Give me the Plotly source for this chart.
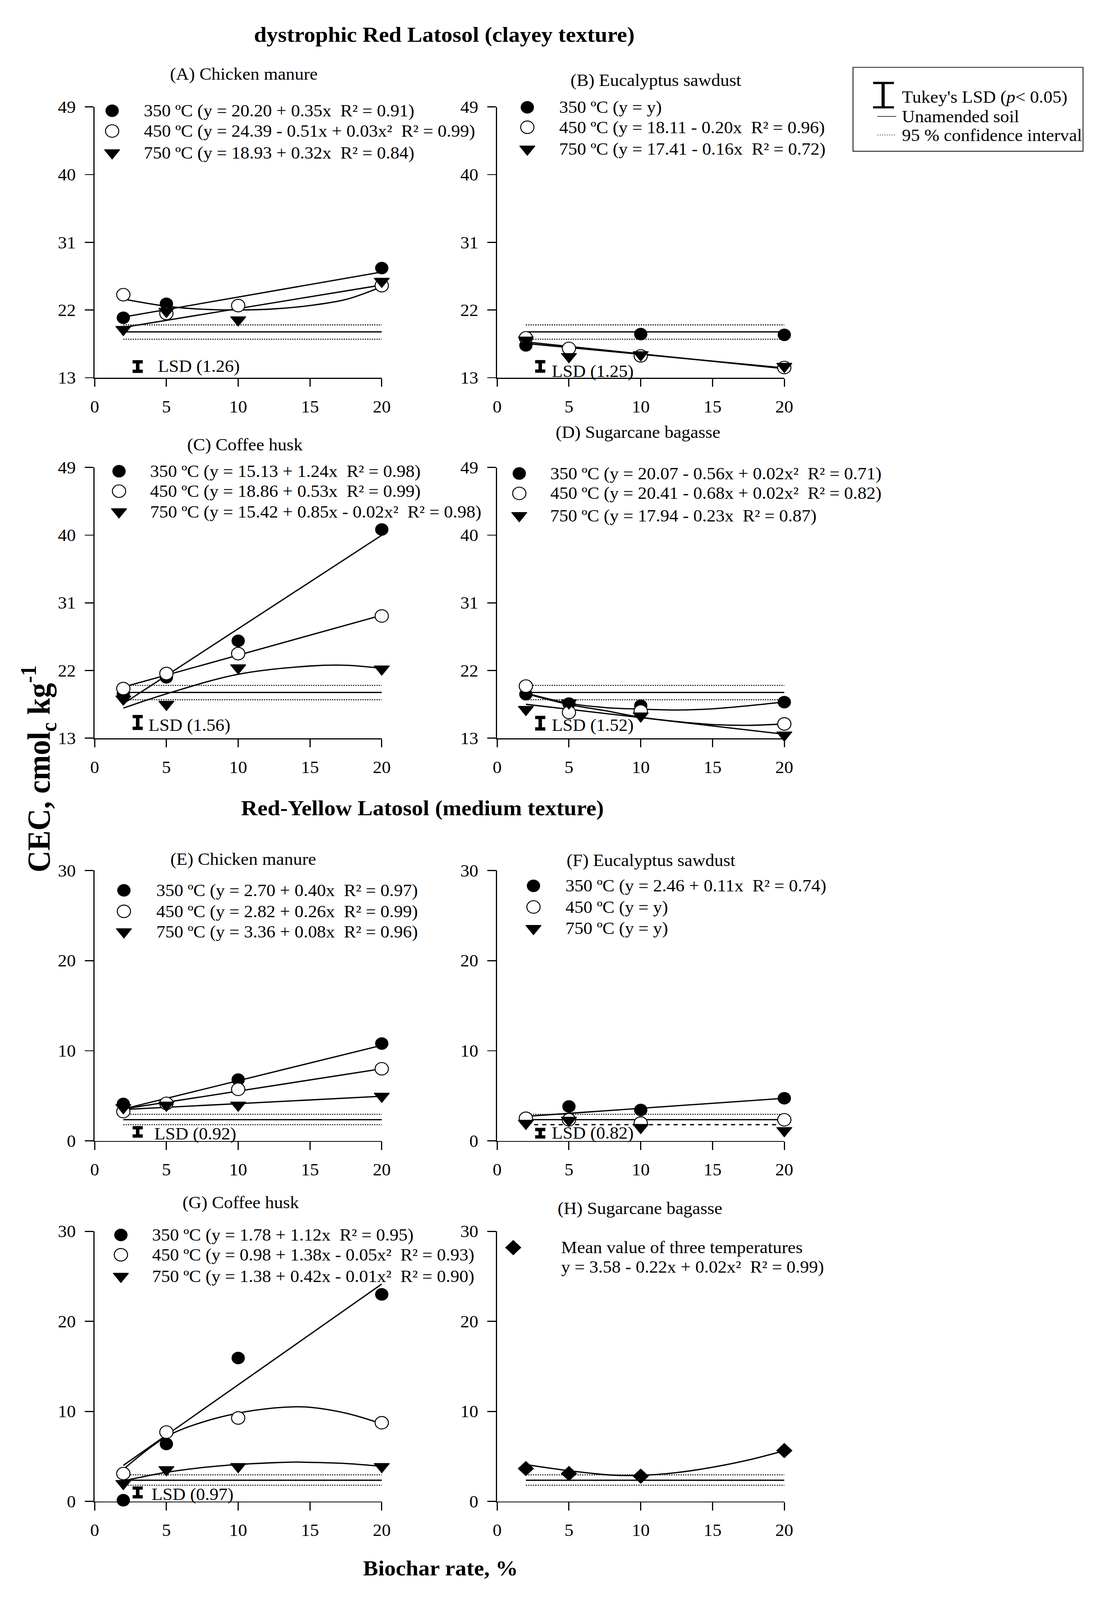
import plotly.graph_objects as go

# ---------------- data ----------------
rate = [2, 5, 10, 20]

# dystrophic Red Latosol (clayey texture)
A_350 = [20.97, 22.83, 22.60, 27.58]
A_450 = [24.04, 21.54, 22.59, 25.24]
A_750 = [19.41, 21.81, 20.69, 25.81]
B_350 = [17.30, 16.90, 18.80, 18.70]
B_450 = [18.30, 16.90, 15.90, 14.35]
B_750 = [18.00, 15.80, 16.05, 14.50]
C_350 = [18.90, 21.10, 25.95, 40.75]
C_450 = [19.60, 21.60, 24.25, 29.25]
C_750 = [18.20, 17.50, 22.35, 22.20]
D_350 = [18.85, 17.60, 17.32, 17.80]
D_450 = [19.93, 16.43, 16.60, 14.90]
D_750 = [16.83, 17.69, 15.95, 13.42]

# Red-Yellow Latosol (medium texture)
E_350 = [4.10, 4.20, 6.80, 10.80]
E_450 = [3.25, 4.16, 5.72, 8.00]
E_750 = [3.68, 3.96, 3.96, 4.95]
F_350 = [2.31, 3.82, 3.43, 4.73]
F_450 = [2.51, 2.34, 1.98, 2.34]
F_750 = [1.95, 2.28, 1.48, 1.14]
G_350 = [0.13, 6.38, 15.93, 23.00]
G_450 = [3.09, 7.70, 9.27, 8.74]
G_750 = [1.98, 3.52, 3.87, 3.87]
H_mean = [3.65, 3.10, 2.80, 5.65]

# fitted curves as drawn (read at several rates)
fit_x_line = [2, 20]
fitA_350 = [21.06, 27.05]
fitA_450_x = [2, 5, 7.5, 10, 12.5, 15, 17.5, 20]
fitA_450 = [23.45, 22.50, 22.10, 22.00, 22.15, 22.60, 23.40, 25.10]
fitA_750 = [19.69, 25.32]
fitB_450 = [17.75, 14.20]
fitB_750 = [17.55, 14.30]
fitC_350 = [17.60, 40.00]
fitC_450 = [19.80, 29.35]
fitC_750_x = [2, 5, 10, 15, 17.5, 20]
fitC_750 = [17.00, 18.90, 21.50, 22.60, 22.70, 22.30]
fitD_x = [2, 5, 7.5, 10, 12.5, 15, 17.5, 20]
fitD_350 = [19.00, 17.64, 17.08, 16.87, 16.75, 16.91, 17.32, 17.83]
fitD_450 = [18.93, 17.48, 16.67, 15.79, 15.22, 14.82, 14.71, 14.90]
fitD_750 = [17.51, 13.53]
fitE_350 = [3.54, 10.60]
fitE_450 = [3.54, 8.00]
fitE_750 = [3.48, 4.95]
fitF_350 = [2.72, 4.73]
fitG_350 = [4.00, 24.15]
fitG_x = [2, 5, 7.5, 10, 12.5, 14, 15, 17.5, 20]
fitG_450 = [3.56, 7.19, 8.80, 9.81, 10.38, 10.51, 10.46, 9.81, 8.63]
fitG_750 = [2.28, 3.23, 3.76, 4.10, 4.30, 4.37, 4.34, 4.21, 3.90]
fitH_x = [2, 5, 8, 10, 12.5, 15, 17.5, 20]
fitH = [4.09, 3.41, 2.92, 2.90, 3.20, 3.80, 4.60, 5.63]

# unamended soil and 95 % CI
unamended_clay = 19.09
ci_clay = [18.12, 20.02]
unamended_med = 2.35
ci_med = [1.80, 2.95]

# Tukey LSD values
lsd_panels = ["A", "B", "C", "D", "E", "F", "G"]
lsd_values = [1.26, 1.25, 1.56, 1.52, 0.92, 0.82, 0.97]

yticks_clay = [13, 22, 31, 40, 49]
yticks_med = [0, 10, 20, 30]
xticks = [0, 5, 10, 15, 20]

legend_text = {
    "A": ["350 ºC (y = 20.20 + 0.35x\u00a0 R² = 0.91)",
          "450 ºC (y = 24.39 - 0.51x + 0.03x²\u00a0 R² = 0.99)",
          "750 ºC (y = 18.93 + 0.32x\u00a0 R² = 0.84)"],
    "B": ["350 ºC (y = y)",
          "450 ºC (y = 18.11 - 0.20x\u00a0 R² = 0.96)",
          "750 ºC (y = 17.41 - 0.16x\u00a0 R² = 0.72)"],
    "C": ["350 ºC (y = 15.13 + 1.24x\u00a0 R² = 0.98)",
          "450 ºC (y = 18.86 + 0.53x\u00a0 R² = 0.99)",
          "750 ºC (y = 15.42 + 0.85x - 0.02x²\u00a0 R² = 0.98)"],
    "D": ["350 ºC (y = 20.07 - 0.56x + 0.02x²\u00a0 R² = 0.71)",
          "450 ºC (y = 20.41 - 0.68x + 0.02x²\u00a0 R² = 0.82)",
          "750 ºC (y = 17.94 - 0.23x\u00a0 R² = 0.87)"],
    "E": ["350 ºC (y = 2.70 + 0.40x\u00a0 R² = 0.97)",
          "450 ºC (y = 2.82 + 0.26x\u00a0 R² = 0.99)",
          "750 ºC (y = 3.36 + 0.08x\u00a0 R² = 0.96)"],
    "F": ["350 ºC (y = 2.46 + 0.11x\u00a0 R² = 0.74)",
          "450 ºC (y = y)",
          "750 ºC (y = y)"],
    "G": ["350 ºC (y = 1.78 + 1.12x\u00a0 R² = 0.95)",
          "450 ºC (y = 0.98 + 1.38x - 0.05x²\u00a0 R² = 0.93)",
          "750 ºC (y = 1.38 + 0.42x - 0.01x²\u00a0 R² = 0.90)"],
    "H": ["Mean value of three temperatures",
          "y = 3.58 - 0.22x + 0.02x²\u00a0 R² = 0.99)"],
}
panel_titles = {"A": "(A) Chicken manure", "B": "(B) Eucalyptus sawdust",
                "C": "(C) Coffee husk", "D": "(D) Sugarcane bagasse",
                "E": "(E) Chicken manure", "F": "(F) Eucalyptus sawdust",
                "G": "(G) Coffee husk", "H": "(H) Sugarcane bagasse"}

# ---------------- layout / positions ----------------
PX_W, PX_H = 2838, 4351
FONT = "Liberation Serif"
FS = 46
FS_BOLD = 58
FS_YTITLE = 82


def px(x, y):
    return x / PX_W, 1 - y / PX_H


col_px = [(233, 977), (1276, 2020)]
row_px = [(269, 1014), (1261, 2006), (2370, 3114), (3363, 4106)]
panel_grid = {"A": (0, 0), "B": (1, 0), "C": (0, 1), "D": (1, 1),
              "E": (0, 2), "F": (1, 2), "G": (0, 3), "H": (1, 3)}
panel_ids = ["A", "B", "C", "D", "E", "F", "G", "H"]

title_px = {"A": (620, 179), "B": (1687, 196), "C": (623, 1199), "D": (1641, 1164),
            "E": (618, 2339), "F": (1675, 2342), "G": (612, 3284), "H": (1646, 3299)}
# legend key positions in data units: symbol x, text x, row ys
legend_pos = {
    "A": (1.22, 3.38, [48.5, 45.8, 42.9]),
    "B": (2.10, 4.27, [48.95, 46.3, 43.4]),
    "C": (1.70, 3.82, [48.5, 45.85, 43.1]),
    "D": (1.54, 3.65, [48.2, 45.55, 42.6]),
    "E": (2.04, 4.23, [27.8, 25.47, 23.2]),
    "F": (2.53, 4.69, [28.3, 25.95, 23.57]),
    "G": (1.83, 3.94, [29.6, 27.4, 25.0]),
    "H": (1.12, 4.41, [28.2, 26.06]),
}
# LSD bar: bar centre y, label x, label y
lsd_pos = {
    "A": (14.48, 4.34, 14.53), "B": (14.5, 3.76, 13.85), "C": (15.1, 3.70, 14.75),
    "D": (15.0, 3.76, 14.74), "E": (1.0, 4.10, 0.76), "F": (0.85, 3.76, 0.9),
    "G": (1.0, 3.91, 0.81),
}

BLACK = "black"
circle_f = dict(symbol="circle", size=34, color=BLACK, line=dict(width=0))
circle_o_fill = dict(symbol="circle", size=34, color="white", line=dict(width=2.5, color=BLACK))
tri = dict(symbol="triangle-down", size=34, color=BLACK, line=dict(width=2, color=BLACK))
diam = dict(symbol="diamond", size=32, color=BLACK, line=dict(width=0))
marker_styles = [circle_f, circle_o_fill, tri]

fig = go.Figure()


def axes_ref(i):
    return ("x" if i == 1 else f"x{i}"), ("y" if i == 1 else f"y{i}")


def add_line(i, xs, ys, width=3.5, dash="solid", color=BLACK, shape="linear"):
    xa, ya = axes_ref(i)
    fig.add_trace(go.Scatter(x=xs, y=ys, mode="lines", xaxis=xa, yaxis=ya,
                             line=dict(color=color, width=width, dash=dash, shape=shape,
                                       smoothing=1.0),
                             hoverinfo="skip", cliponaxis=False))


def add_points(i, ys, marker, name):
    xa, ya = axes_ref(i)
    fig.add_trace(go.Scatter(x=rate, y=ys, mode="markers", xaxis=xa, yaxis=ya, name=name,
                             marker=marker, cliponaxis=False))


series = {
    "A": [A_350, A_450, A_750], "B": [B_350, B_450, B_750],
    "C": [C_350, C_450, C_750], "D": [D_350, D_450, D_750],
    "E": [E_350, E_450, E_750], "F": [F_350, F_450, F_750],
    "G": [G_350, G_450, G_750], "H": [H_mean],
}
fits = {
    "A": [(fit_x_line, fitA_350, "linear"), (fitA_450_x, fitA_450, "spline"), (fit_x_line, fitA_750, "linear")],
    "B": [(fit_x_line, fitB_450, "linear"), (fit_x_line, fitB_750, "linear")],
    "C": [(fit_x_line, fitC_350, "linear"), (fit_x_line, fitC_450, "linear"), (fitC_750_x, fitC_750, "spline")],
    "D": [(fitD_x, fitD_350, "spline"), (fitD_x, fitD_450, "spline"), (fit_x_line, fitD_750, "linear")],
    "E": [(fit_x_line, fitE_350, "linear"), (fit_x_line, fitE_450, "linear"), (fit_x_line, fitE_750, "linear")],
    "F": [(fit_x_line, fitF_350, "linear")],
    "G": [(fit_x_line, fitG_350, "linear"), (fitG_x, fitG_450, "spline"), (fitG_x, fitG_750, "spline")],
    "H": [(fitH_x, fitH, "spline")],
}

annotations = []
shapes = []
layout_axes = {}

for i, pid in enumerate(panel_ids, start=1):
    c, r = panel_grid[pid]
    clay = r < 2
    x0, x1 = col_px[c]
    yt, yb = row_px[r]
    xa_name = "xaxis" if i == 1 else f"xaxis{i}"
    ya_name = "yaxis" if i == 1 else f"yaxis{i}"
    xa, ya = axes_ref(i)
    layout_axes[xa_name] = dict(
        domain=[x0 / PX_W, x1 / PX_W], anchor=ya, range=[0, 20], tickvals=xticks,
        showline=True, linecolor=BLACK, linewidth=3, ticks="outside", ticklen=22,
        tickwidth=3, tickcolor=BLACK, showgrid=False, zeroline=False,
        tickfont=dict(family=FONT, size=FS, color=BLACK), ticklabelstandoff=14)
    layout_axes[ya_name] = dict(
        domain=[1 - yb / PX_H, 1 - yt / PX_H], anchor=xa,
        range=[13, 49] if clay else [0, 30],
        tickvals=yticks_clay if clay else yticks_med,
        showline=True, linecolor=BLACK, linewidth=3, ticks="outside", ticklen=22,
        tickwidth=3, tickcolor=BLACK, showgrid=False, zeroline=False,
        tickfont=dict(family=FONT, size=FS, color=BLACK), ticklabelstandoff=14)

    # unamended soil and CI
    base = unamended_clay if clay else unamended_med
    ci = ci_clay if clay else ci_med
    add_line(i, fit_x_line, [ci[1], ci[1]], width=3, dash="dot", color="#111")
    if pid == "F":
        add_line(i, fit_x_line, [ci[0], ci[0]], width=3.5, dash="dash")
    else:
        add_line(i, fit_x_line, [ci[0], ci[0]], width=3, dash="dot", color="#111")
    add_line(i, fit_x_line, [base, base], width=3.5)

    for fx, fy, shp in fits[pid]:
        add_line(i, fx, fy, shape=shp)

    sx, tx, rows = legend_pos[pid]
    if pid == "H":
        add_points(i, H_mean, diam, "Mean")
        fig.add_trace(go.Scatter(x=[sx], y=[rows[0]], mode="markers", xaxis=xa, yaxis=ya,
                                 marker=diam, cliponaxis=False))
    else:
        for k, ys in enumerate(series[pid]):
            add_points(i, ys, marker_styles[k], legend_text[pid][k][:6])
        for k in range(3):
            fig.add_trace(go.Scatter(x=[sx], y=[rows[k]], mode="markers", xaxis=xa, yaxis=ya,
                                     marker=marker_styles[k], cliponaxis=False))
    for k, txt in enumerate(legend_text[pid]):
        annotations.append(dict(x=tx, y=rows[k], xref=xa, yref=ya, text=txt, showarrow=False,
                                xanchor="left", yanchor="middle",
                                font=dict(family=FONT, size=FS, color=BLACK)))

    if pid in lsd_panels:
        v = lsd_values[lsd_panels.index(pid)]
        cy, lx, ly = lsd_pos[pid]
        fig.add_trace(go.Scatter(x=[3.0], y=[cy], mode="markers", xaxis=xa, yaxis=ya,
                                 marker=dict(size=1, color="rgba(0,0,0,0)"),
                                 error_y=dict(type="constant", value=v / 2, symmetric=True,
                                              thickness=9, width=13, color=BLACK),
                                 cliponaxis=False))
        annotations.append(dict(x=lx, y=ly, xref=xa, yref=ya, text=f"LSD ({v:.2f})",
                                showarrow=False, xanchor="left", yanchor="middle",
                                font=dict(family=FONT, size=FS, color=BLACK)))

    tx_, ty_ = px(*title_px[pid])
    annotations.append(dict(x=tx_, y=ty_, xref="paper", yref="paper", text=panel_titles[pid],
                            showarrow=False, xanchor="center", yanchor="middle",
                            font=dict(family=FONT, size=FS, color=BLACK)))

# section and axis titles
for txt, (x, y) in [("<b>dystrophic Red Latosol (clayey texture)</b>", (1139, 70)),
                    ("<b>Red-Yellow Latosol (medium texture)</b>", (1082, 2198)),
                    ("<b>Biochar rate, %</b>", (1129, 4290))]:
    px_, py_ = px(x, y)
    annotations.append(dict(x=px_, y=py_, xref="paper", yref="paper", text=txt, showarrow=False,
                            xanchor="center", yanchor="middle",
                            font=dict(family=FONT, size=FS_BOLD, color=BLACK)))
yx, yy = px(88, 2090)
annotations.append(dict(x=yx, y=yy, xref="paper", yref="paper",
                        text="<b>CEC, cmol<sub>c</sub> kg<sup>-1</sup></b>", textangle=-90,
                        showarrow=False, xanchor="center", yanchor="middle",
                        font=dict(family=FONT, size=FS_YTITLE, color=BLACK)))

# overall key box (top right)
bx0, by0 = px(2198, 160)
bx1, by1 = px(2794, 391)
shapes.append(dict(type="rect", xref="paper", yref="paper", x0=bx0, y0=by1, x1=bx1, y1=by0,
                   line=dict(color=BLACK, width=2)))
ix, iy0 = px(2276, 203)
_, iy1 = px(2276, 270)
shapes.append(dict(type="line", xref="paper", yref="paper", x0=ix, x1=ix, y0=iy0, y1=iy1,
                   line=dict(color=BLACK, width=8)))
cx0, _ = px(2250, 0)
cx1, _ = px(2304, 0)
for yy_ in (iy0, iy1):
    shapes.append(dict(type="line", xref="paper", yref="paper", x0=cx0, x1=cx1, y0=yy_, y1=yy_,
                       line=dict(color=BLACK, width=6)))
lx0, ly_u = px(2261, 295)
lx1, ly_c = px(2310, 346)
shapes.append(dict(type="line", xref="paper", yref="paper", x0=lx0, x1=lx1, y0=ly_u, y1=ly_u,
                   line=dict(color=BLACK, width=1.5)))
shapes.append(dict(type="line", xref="paper", yref="paper", x0=lx0, x1=lx1, y0=ly_c, y1=ly_c,
                   line=dict(color="#333", width=1.5, dash="dot")))
for txt, y in [("Tukey's LSD (<i>p</i>&lt; 0.05)", 241), ("Unamended soil", 295),
               ("95 % confidence interval", 347)]:
    kx, ky = px(2323, y)
    annotations.append(dict(x=kx, y=ky, xref="paper", yref="paper", text=txt, showarrow=False,
                            xanchor="left", yanchor="middle",
                            font=dict(family=FONT, size=FS, color=BLACK)))

fig.update_layout(
    width=PX_W, height=PX_H, margin=dict(l=0, r=0, t=0, b=0),
    paper_bgcolor="white", plot_bgcolor="white", showlegend=False,
    font=dict(family=FONT, size=FS, color=BLACK),
    annotations=annotations, shapes=shapes, **layout_axes)

# fit the fixed-size figure exactly into the browser viewport
fit_script = """
(function(){
  var gd = document.getElementById('{plot_id}');
  document.documentElement.style.overflow = 'hidden';
  document.body.style.margin = '0';
  document.body.style.overflow = 'hidden';
  var kx = window.innerWidth / %d, ky = window.innerHeight / %d;
  gd.style.position = 'absolute';
  gd.style.left = '0px';
  gd.style.top = '0px';
  gd.style.transformOrigin = '0 0';
  gd.style.transform = 'scale(' + kx + ',' + ky + ')';
})();
""" % (PX_W, PX_H)

fig.write_html("out.html", post_script=fit_script, config={"displayModeBar": False})
